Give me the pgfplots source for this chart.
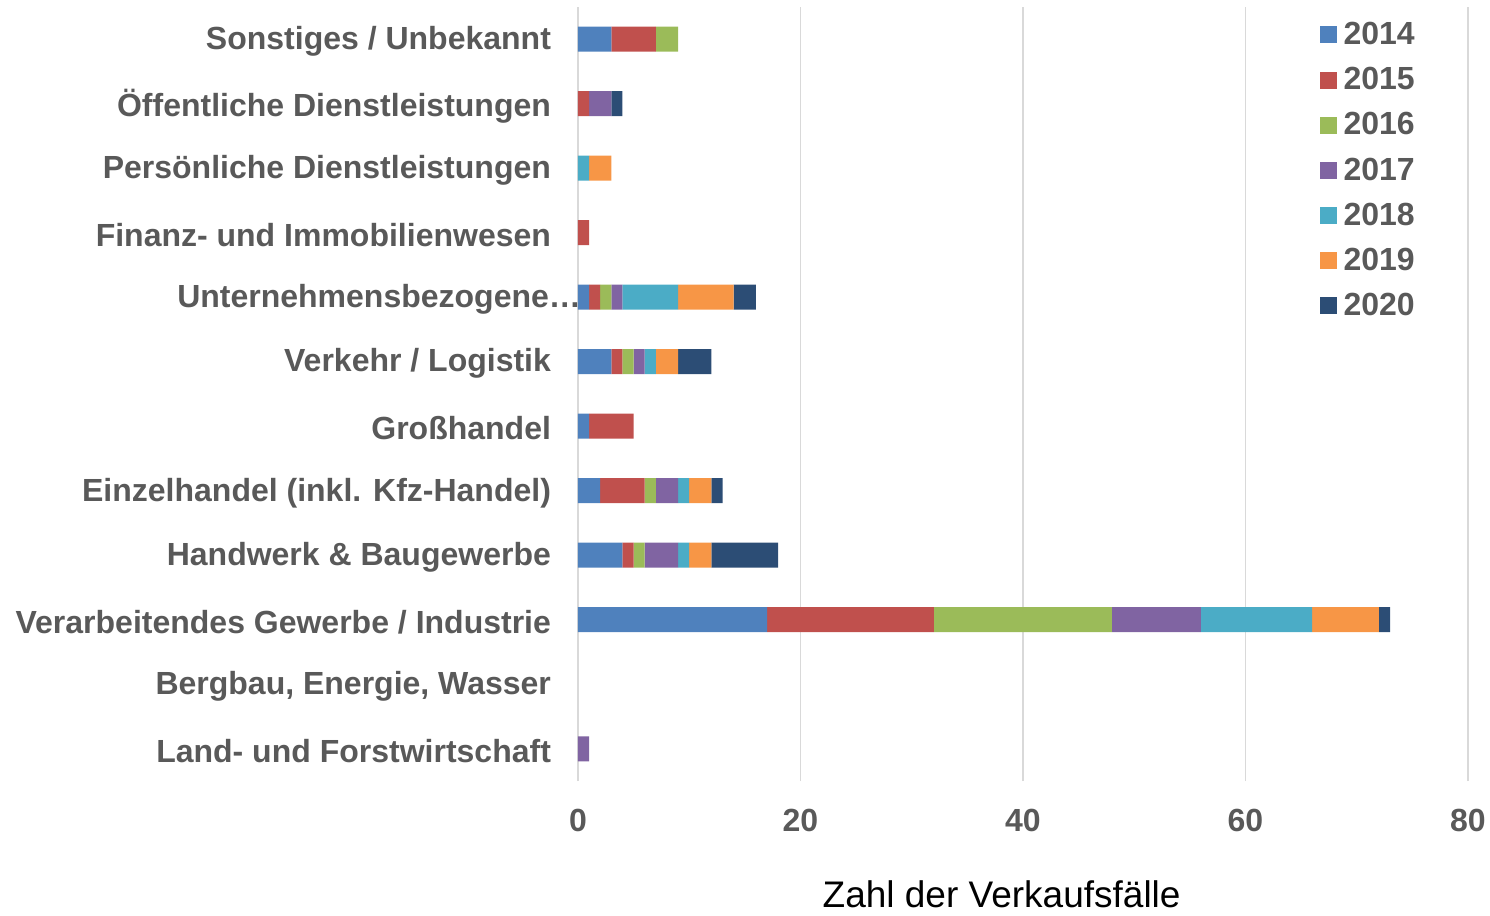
\documentclass[border=0pt]{standalone}
\usepackage{pgfplots}
\pgfplotsset{compat=1.18}
\usepackage{fontspec}
\setmainfont{Liberation Sans}
\definecolor{c14}{HTML}{4F81BD}
\definecolor{c15}{HTML}{C0504D}
\definecolor{c16}{HTML}{9BBB59}
\definecolor{c17}{HTML}{8064A2}
\definecolor{c18}{HTML}{4BACC6}
\definecolor{c19}{HTML}{F79646}
\definecolor{c20}{HTML}{2C4D75}
\definecolor{txtgray}{HTML}{595959}
\definecolor{gridgray}{HTML}{D9D9D9}
\begin{document}
\begin{tikzpicture}
\useasboundingbox (-289pt,-67.5pt) rectangle (456pt,390.5pt);
\begin{axis}[
  at={(0pt,0)}, anchor=south west,
  scale only axis, width=445pt, height=387pt,
  xbar stacked, bar width=12.5pt,
  xmin=0, xmax=80, xtick={0,20,40,60,80},
  ymin=-0.5, ymax=11.5, ytick={0,...,11},
  yticklabels={Land- und Forstwirtschaft, {Bergbau, Energie, Wasser}, Verarbeitendes Gewerbe / Industrie, Handwerk \& Baugewerbe, Einzelhandel (inkl. Kfz-Handel), Großhandel, Verkehr / Logistik, Unternehmensbezogene…\hspace*{-15pt}, Finanz- und Immobilienwesen, Persönliche Dienstleistungen, Öffentliche Dienstleistungen, Sonstiges / Unbekannt},
  axis line style={draw=none},
  major tick length=0pt,
  xmajorgrids, grid style={gridgray, line width=0.75pt},
  /pgf/number format/assume math mode=true,
  ticklabel style={font=\bfseries\fontsize{16}{19}\selectfont, text=txtgray},
  yticklabel style={xshift=-10pt, yshift=-1pt},
  xticklabel style={yshift=-10.5pt},
  xlabel={Zahl der Verkaufsfälle},
  xlabel style={font=\fontsize{18.5}{22}\selectfont, inner sep=0pt, at={(axis description cs:0.476,-0.146)}, anchor=center},
  legend style={draw=none, fill=none, font=\bfseries\fontsize{16}{19}\selectfont, text=txtgray,
    at={(axis description cs:0.826,0.9885)}, anchor=north west, row sep=7.9pt,
    nodes={inner sep=1pt}},
  legend cell align=left,
  legend image code/.code={\fill[#1] (0pt,-4.25pt) rectangle (8.5pt,4.25pt); \path (11pt,0pt);},
]
\addplot[fill=c14, draw=none] coordinates {(0,0) (0,1) (17,2) (4,3) (2,4) (1,5) (3,6) (1,7) (0,8) (0,9) (0,10) (3,11)};
\addplot[fill=c15, draw=none] coordinates {(0,0) (0,1) (15,2) (1,3) (4,4) (4,5) (1,6) (1,7) (1,8) (0,9) (1,10) (4,11)};
\addplot[fill=c16, draw=none] coordinates {(0,0) (0,1) (16,2) (1,3) (1,4) (0,5) (1,6) (1,7) (0,8) (0,9) (0,10) (2,11)};
\addplot[fill=c17, draw=none] coordinates {(1,0) (0,1) (8,2) (3,3) (2,4) (0,5) (1,6) (1,7) (0,8) (0,9) (2,10) (0,11)};
\addplot[fill=c18, draw=none] coordinates {(0,0) (0,1) (10,2) (1,3) (1,4) (0,5) (1,6) (5,7) (0,8) (1,9) (0,10) (0,11)};
\addplot[fill=c19, draw=none] coordinates {(0,0) (0,1) (6,2) (2,3) (2,4) (0,5) (2,6) (5,7) (0,8) (2,9) (0,10) (0,11)};
\addplot[fill=c20, draw=none] coordinates {(0,0) (0,1) (1,2) (6,3) (1,4) (0,5) (3,6) (2,7) (0,8) (0,9) (1,10) (0,11)};
\legend{2014,2015,2016,2017,2018,2019,2020}
\end{axis}
\end{tikzpicture}
\end{document}
